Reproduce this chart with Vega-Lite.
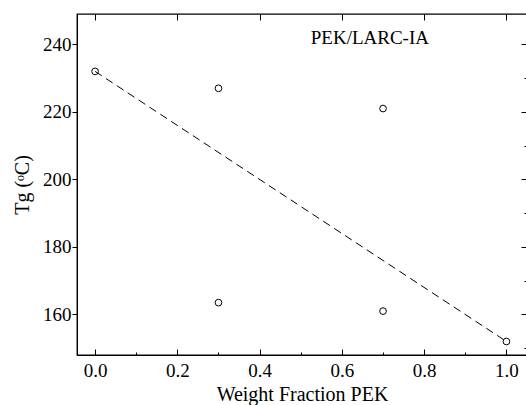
{
  "$schema": "https://vega.github.io/schema/vega-lite/v6.json",
  "autosize": "none",
  "padding": {"left": 77, "top": 14, "right": 0, "bottom": 50},
  "width": 450,
  "height": 341,
  "config": {
    "view": {"stroke": "black", "strokeWidth": 1.3},
    "font": "Liberation Serif",
    "axis": {"grid": false, "domainColor": "black", "tickColor": "black", "labelColor": "black", "titleColor": "black", "labelFont": "Liberation Serif", "titleFont": "Liberation Serif", "labelFontSize": 19, "titleFontSize": 20, "titleFontWeight": "normal"}
  },
  "datasets": {
    "pts": [
      {"w": 0.0, "tg": 232},
      {"w": 0.3, "tg": 227},
      {"w": 0.3, "tg": 163.5},
      {"w": 0.7, "tg": 221},
      {"w": 0.7, "tg": 161},
      {"w": 1.0, "tg": 152}
    ],
    "fit": [
      {"w": 0.0, "tg": 232},
      {"w": 1.0, "tg": 152}
    ],
    "lbl": [
      {"w": 0.668, "tg": 242, "t": "PEK/LARC-IA"}
    ]
  },
  "resolve": {"axis": {"x": "independent", "y": "independent"}},
  "layer": [
    {
      "data": {"name": "pts"},
      "mark": {"type": "point", "shape": "circle", "filled": false, "stroke": "black", "strokeWidth": 1, "size": 45, "opacity": 1},
      "encoding": {
        "x": {"field": "w", "type": "quantitative", "scale": {"domain": [-0.044, 1.05], "nice": false, "zero": false},
          "axis": {"orient": "bottom", "title": "Weight Fraction PEK", "values": [0, 0.2, 0.4, 0.6, 0.8, 1.0], "format": ".1f", "tickSize": -6, "labelPadding": 12, "titlePadding": 4, "domain": true}},
        "y": {"field": "tg", "type": "quantitative", "scale": {"domain": [148, 249], "nice": false, "zero": false},
          "axis": {"orient": "left", "title": "Tg (ᵒC)", "values": [160, 180, 200, 220, 240], "tickSize": 5, "labelPadding": 1, "titlePadding": 10}}
      }
    },
    {
      "data": {"name": "fit"},
      "mark": {"type": "line", "stroke": "black", "strokeWidth": 1, "strokeDash": [8, 5]},
      "encoding": {
        "x": {"field": "w", "type": "quantitative", "axis": {"orient": "top", "title": null, "labels": false, "values": [0, 0.2, 0.4, 0.6, 0.8, 1.0], "tickSize": -6, "domain": false}},
        "y": {"field": "tg", "type": "quantitative", "axis": {"orient": "right", "title": null, "labels": false, "values": [160, 180, 200, 220, 240], "tickSize": -6, "domain": false}}
      }
    },
    {
      "data": {"name": "lbl"},
      "mark": {"type": "text", "font": "Liberation Serif", "fontSize": 19, "color": "black", "align": "center", "baseline": "middle"},
      "encoding": {
        "x": {"field": "w", "type": "quantitative", "axis": {"orient": "bottom", "title": null, "labels": false, "values": [0.1, 0.3, 0.5, 0.7, 0.9], "tickSize": -3, "domain": false}},
        "y": {"field": "tg", "type": "quantitative", "axis": {"orient": "right", "title": null, "labels": false, "values": [150, 170, 190, 210, 230], "tickSize": -3, "domain": false}},
        "text": {"field": "t"}
      }
    }
  ]
}
